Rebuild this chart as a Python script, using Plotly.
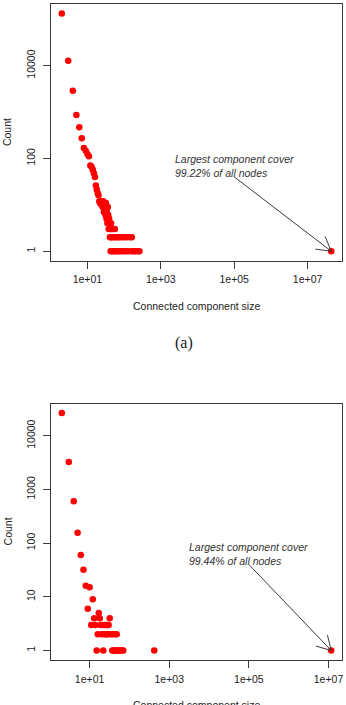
import numpy as np
import plotly.graph_objects as go

# ---------------- data ----------------
sizes_a = [2, 3, 4, 5, 6, 7, 8, 9, 10, 11, 12, 13, 14, 15, 16, 17, 18, 19, 20, 21,
           22, 23, 24, 25, 26, 27, 28, 29, 30, 31, 32, 33, 34, 35, 36, 37, 38, 39, 40,
           41, 42, 43, 44, 45, 46, 47, 48, 50, 52, 54, 56, 58, 61, 64, 68, 72, 77, 82,
           88, 95, 102, 110, 120, 130, 145, 160, 162, 180, 200, 225, 262, 44000000]
counts_a = [133000, 12800, 2890, 860, 470, 272, 168, 146, 124, 112, 70, 66, 57, 48, 40,
            26, 21, 18, 16, 12, 11, 12, 10, 11, 9, 12, 7, 11, 8, 6, 11, 5, 7, 4, 9, 6,
            3, 5, 4, 2, 3, 1, 4, 2, 3, 1, 2, 3, 1, 2, 3, 1, 2, 1, 2, 1, 2, 1, 2, 1, 2,
            1, 2, 1, 2, 1, 2, 1, 1, 1, 1, 1]

sizes_b = [2, 3, 4, 5, 6, 7, 8, 9, 10, 11, 12, 13, 14, 15, 16, 17, 18, 19, 20, 21, 22,
           23, 24, 25, 26, 27, 28, 29, 30, 32, 34, 37, 38, 40, 42, 44, 46, 48, 50, 55,
           60, 66, 70, 420, 11700000]
counts_b = [26500, 3240, 600, 156, 60, 32, 16, 6, 15, 3, 9, 4, 3, 1, 2, 5, 4, 3, 2, 3,
            1, 2, 3, 2, 3, 2, 3, 2, 3, 4, 2, 1, 2, 1, 1, 2, 1, 2, 1, 1, 1, 1, 1, 1, 1]

xtick_vals = [1e1, 1e3, 1e5, 1e7]
xtick_text = ["1e+01", "1e+03", "1e+05", "1e+07"]
ytick_vals_a = [1, 100, 10000]
ytick_text_a = ["1", "100", "10000"]
ytick_vals_b = [1, 10, 100, 1000, 10000]
ytick_text_b = ["1", "10", "100", "1000", "10000"]

note_a = "Largest component cover<br>99.22% of all nodes"
note_b = "Largest component cover<br>99.44% of all nodes"
note_pos_a = (1e5, 67)
note_pos_b = (1e5, 64)
arrow_tail = (1e5, 40)

# ---------------- layout geometry (pixels) ----------------
W, H = 346, 705
PX_L, PX_R = 51, 342
A_TOP, A_BOT = 4, 260.7
B_TOP, B_BOT = 403.5, 660

RED = "#ff0000"
LINE = "#3a3a3a"
TXT = "#222222"
SANS = "Liberation Sans, Arial, sans-serif"


def rrange(v):
    lv = np.log10(np.asarray(v, dtype=float))
    lo, hi = lv.min(), lv.max()
    d = (hi - lo) * 0.04
    return [lo - d, hi + d]


def ypaper(py):
    return 1 - py / H


fig = go.Figure()
fig.add_trace(go.Scatter(x=sizes_a, y=counts_a, mode="markers", xaxis="x", yaxis="y",
                         marker=dict(color=RED, size=6.5, line=dict(width=0)),
                         showlegend=False, hoverinfo="skip"))
fig.add_trace(go.Scatter(x=sizes_b, y=counts_b, mode="markers", xaxis="x2", yaxis="y2",
                         marker=dict(color=RED, size=6.5, line=dict(width=0)),
                         showlegend=False, hoverinfo="skip"))

axis_common = dict(type="log", showgrid=False, zeroline=False, showline=True, mirror=True,
                   linecolor=LINE, linewidth=1, ticks="outside", ticklen=7, tickwidth=1,
                   tickcolor=LINE, tickfont=dict(family=SANS, size=10.5, color=TXT))

xr_a, yr_a = rrange(sizes_a), rrange(counts_a)
xr_b, yr_b = rrange(sizes_b), rrange(counts_b)

fig.update_layout(
    width=W, height=H, margin=dict(l=0, r=0, t=0, b=0),
    paper_bgcolor="white", plot_bgcolor="white",
    xaxis=dict(axis_common, domain=[PX_L / W, PX_R / W], range=xr_a, anchor="y",
               tickvals=xtick_vals, ticktext=xtick_text, ticklabelstandoff=2),
    yaxis=dict(axis_common, domain=[ypaper(A_BOT), ypaper(A_TOP)], range=yr_a, anchor="x",
               tickvals=ytick_vals_a, ticktext=ytick_text_a, tickangle=-90,
               ticklabelstandoff=4),
    xaxis2=dict(axis_common, domain=[PX_L / W, PX_R / W], range=xr_b, anchor="y2",
                tickvals=xtick_vals, ticktext=xtick_text, ticklabelstandoff=2),
    yaxis2=dict(axis_common, domain=[ypaper(B_BOT), ypaper(B_TOP)], range=yr_b, anchor="x2",
                tickvals=ytick_vals_b, ticktext=ytick_text_b, tickangle=-90,
                ticklabelstandoff=4),
)

annotations = []
shapes = []


def panel(xref, yref, xr, yr, top, bot, sizes, counts, note, note_pos, label):
    # note text
    annotations.append(dict(xref=xref, yref=yref, x=np.log10(note_pos[0]),
                            y=np.log10(note_pos[1]), text="<i>" + note + "</i>",
                            showarrow=False, align="left", xanchor="center",
                            yanchor="middle",
                            font=dict(family=SANS, size=10.5, color="#333333")))
    # arrow to largest component
    tip = (sizes[-1], counts[-1])
    shapes.append(dict(type="line", xref=xref, yref=yref, x0=arrow_tail[0], y0=arrow_tail[1],
                       x1=tip[0], y1=tip[1], line=dict(color=LINE, width=1)))
    sx = (PX_R - PX_L) / (xr[1] - xr[0])
    sy = (bot - top) / (yr[1] - yr[0])
    lx_tip, ly_tip = np.log10(tip[0]), np.log10(tip[1])
    dx = (lx_tip - np.log10(arrow_tail[0])) * sx
    dy = -(ly_tip - np.log10(arrow_tail[1])) * sy
    ang = np.arctan2(-dy, -dx)
    for da in (np.radians(30), -np.radians(30)):
        hx = 16 * np.cos(ang + da)
        hy = 16 * np.sin(ang + da)
        shapes.append(dict(type="line", xref=xref, yref=yref,
                           x0=10 ** (lx_tip + hx / sx), y0=10 ** (ly_tip - hy / sy),
                           x1=tip[0], y1=tip[1], line=dict(color=LINE, width=1)))
    # axis titles
    annotations.append(dict(xref="paper", yref="paper", x=7.7 / W, y=ypaper((top + bot) / 2),
                            text="Count", textangle=-90, showarrow=False,
                            xanchor="center", yanchor="middle",
                            font=dict(family=SANS, size=10.5, color=TXT)))
    annotations.append(dict(xref="paper", yref="paper", x=(PX_L + PX_R) / 2 / W,
                            y=ypaper(bot + 45), text="Connected component size",
                            showarrow=False, xanchor="center", yanchor="middle",
                            font=dict(family=SANS, size=10.5, color=TXT)))
    if label:
        annotations.append(dict(xref="paper", yref="paper", x=184 / W, y=ypaper(bot + 82),
                                text=label, showarrow=False, xanchor="center",
                                yanchor="middle",
                                font=dict(family="Liberation Serif, serif", size=16,
                                          color=TXT)))


panel("x", "y", xr_a, yr_a, A_TOP, A_BOT, sizes_a, counts_a, note_a, note_pos_a, "(a)")
panel("x2", "y2", xr_b, yr_b, B_TOP, B_BOT, sizes_b, counts_b, note_b, note_pos_b, None)

fig.update_layout(annotations=annotations, shapes=shapes)
fig.write_html("out.html")
